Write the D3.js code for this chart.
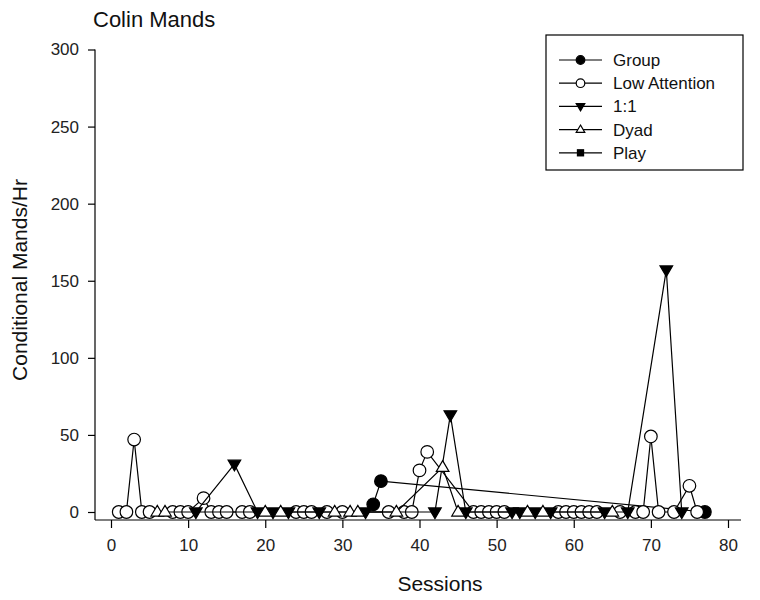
<!DOCTYPE html>
<html>
<head>
<meta charset="utf-8">
<script src="https://cdn.jsdelivr.net/npm/d3@7"></script>
<style>
  body { margin: 0; background: #fff; }
  svg { display: block; font-family: Arial, "Liberation Sans", sans-serif; }
</style>
</head>
<body>
<svg id="chart" width="760" height="600"></svg>
<script>
// Data (session number -> conditional mands per hour)
const groupSessions = [34, 35, 77];
const groupValues = [5, 20, 0];

const lowAttnSessions = [1, 2, 3, 4, 5, 8, 9, 10, 12, 13, 14, 15, 17, 18, 24, 25, 26, 28, 30, 36, 38, 39, 40, 41,
  47, 48, 49, 50, 51, 58, 59, 60, 61, 62, 63, 66, 68, 69, 70, 71, 73, 75, 76];
const lowAttnValues = [0, 0, 47, 0, 0, 0, 0, 0, 9, 0, 0, 0, 0, 0, 0, 0, 0, 0, 0, 0, 0, 0, 27, 39,
  0, 0, 0, 0, 0, 0, 0, 0, 0, 0, 0, 0, 0, 0, 49, 0, 0, 17, 0];

const oneToOneSessions = [11, 16, 19, 21, 23, 27, 33, 42, 44, 46, 52, 53, 55, 57, 64, 67, 72, 74];
const oneToOneValues = [0, 31, 0, 0, 0, 0, 0, 0, 63, 0, 0, 0, 0, 0, 0, 0, 157, 0];

const dyadSessions = [6, 7, 20, 22, 29, 31, 32, 37, 43, 45, 54, 56, 65];
const dyadValues = [0, 0, 0, 0, 0, 0, 0, 0, 29, 0, 0, 0, 0];

const playSessions = [];
const playValues = [];

const xTicks = [0, 10, 20, 30, 40, 50, 60, 70, 80];
const yTicks = [0, 50, 100, 150, 200, 250, 300];

const seriesNames = ['Group', 'Low Attention', '1:1', 'Dyad', 'Play'];
const seriesMarkers = ['circleFilled', 'circleOpen', 'triDown', 'triUp', 'square'];

const svg = d3.select('#chart');

// Scales
const x = d3.scaleLinear().domain([0, 80]).range([111, 728]);
const y = d3.scaleLinear().domain([0, 300]).range([512, 49.5]);
const axisX = 95;   // y axis position
const axisY = 520;  // x axis position

// Marker drawing helper
function marker(g, type, cx, cy, s) {
  if (type === 'circleFilled' || type === 'circleOpen') {
    g.append('circle').attr('cx', cx).attr('cy', cy).attr('r', s)
      .attr('fill', type === 'circleFilled' ? '#000' : '#fff')
      .attr('stroke', '#000').attr('stroke-width', 1.2);
  } else if (type === 'triDown' || type === 'triUp') {
    const h = s * 1.7, w = s * 1.0;
    const sign = type === 'triDown' ? -1 : 1;
    const pts = [[cx, cy - sign * h * 0.62], [cx + w, cy + sign * h * 0.38], [cx - w, cy + sign * h * 0.38]];
    g.append('path').attr('d', 'M' + pts.map(p => p.join(',')).join('L') + 'Z')
      .attr('fill', type === 'triDown' ? '#000' : '#fff')
      .attr('stroke', '#000').attr('stroke-width', 1.2).attr('stroke-linejoin', 'miter');
  } else if (type === 'square') {
    g.append('rect').attr('x', cx - s * 0.85).attr('y', cy - s * 0.85)
      .attr('width', s * 1.7).attr('height', s * 1.7).attr('fill', '#000');
  }
}

// Series
const allSeries = [
  { sessions: groupSessions, values: groupValues },
  { sessions: lowAttnSessions, values: lowAttnValues },
  { sessions: oneToOneSessions, values: oneToOneValues },
  { sessions: dyadSessions, values: dyadValues },
  { sessions: playSessions, values: playValues }
];

const line = d3.line().x(d => x(d[0])).y(d => y(d[1]));

allSeries.forEach((s, i) => {
  const pts = s.sessions.map((d, j) => [d, s.values[j]]);
  if (pts.length === 0) return;
  const g = svg.append('g');
  g.append('path').datum(pts).attr('d', line)
    .attr('fill', 'none').attr('stroke', '#000').attr('stroke-width', 1.2);
  pts.forEach(p => marker(g, seriesMarkers[i], x(p[0]), y(p[1]), 6.3));
});

// Axes
const xAxis = svg.append('g').attr('transform', `translate(0,${axisY})`)
  .call(d3.axisBottom(x).tickValues(xTicks).tickSize(8).tickSizeOuter(0).tickPadding(11));
xAxis.select('.domain').remove();
xAxis.selectAll('line').attr('stroke', '#000').attr('stroke-width', 1.2);
xAxis.selectAll('text').attr('font-size', 17).attr('fill', '#222')
  .attr('font-family', 'Arial, "Liberation Sans", sans-serif');
svg.append('line').attr('x1', axisX).attr('x2', 741).attr('y1', axisY).attr('y2', axisY)
  .attr('stroke', '#000').attr('stroke-width', 1.2);

const yAxis = svg.append('g').attr('transform', `translate(${axisX},0)`)
  .call(d3.axisLeft(y).tickValues(yTicks).tickSize(7).tickSizeOuter(0).tickPadding(9));
yAxis.select('.domain').remove();
yAxis.selectAll('line').attr('stroke', '#000').attr('stroke-width', 1.2);
yAxis.selectAll('text').attr('font-size', 17).attr('fill', '#222')
  .attr('font-family', 'Arial, "Liberation Sans", sans-serif');
svg.append('line').attr('x1', axisX).attr('x2', axisX).attr('y1', y(300)).attr('y2', axisY)
  .attr('stroke', '#000').attr('stroke-width', 1.2);

// Titles
svg.append('text').attr('x', 93).attr('y', 27).attr('font-size', 22).attr('fill', '#111')
  .text('Colin Mands');
svg.append('text').attr('x', 440).attr('y', 591).attr('text-anchor', 'middle')
  .attr('font-size', 21).attr('fill', '#111').text('Sessions');
svg.append('text').attr('transform', 'translate(27,280) rotate(-90)').attr('text-anchor', 'middle')
  .attr('font-size', 21).attr('fill', '#111').text('Conditional Mands/Hr');

// Legend
const legend = svg.append('g');
legend.append('rect').attr('x', 546).attr('y', 35).attr('width', 197).attr('height', 135)
  .attr('fill', '#fff').attr('stroke', '#000').attr('stroke-width', 1.2);
seriesNames.forEach((name, i) => {
  const ly = 60 + i * 23.2;
  legend.append('line').attr('x1', 559).attr('x2', 602).attr('y1', ly).attr('y2', ly)
    .attr('stroke', '#000').attr('stroke-width', 1.2);
  marker(legend, seriesMarkers[i], 580.5, ly, 4.3);
  legend.append('text').attr('x', 613).attr('y', ly + 6).attr('font-size', 17).attr('fill', '#111').text(name);
});
</script>
</body>
</html>
